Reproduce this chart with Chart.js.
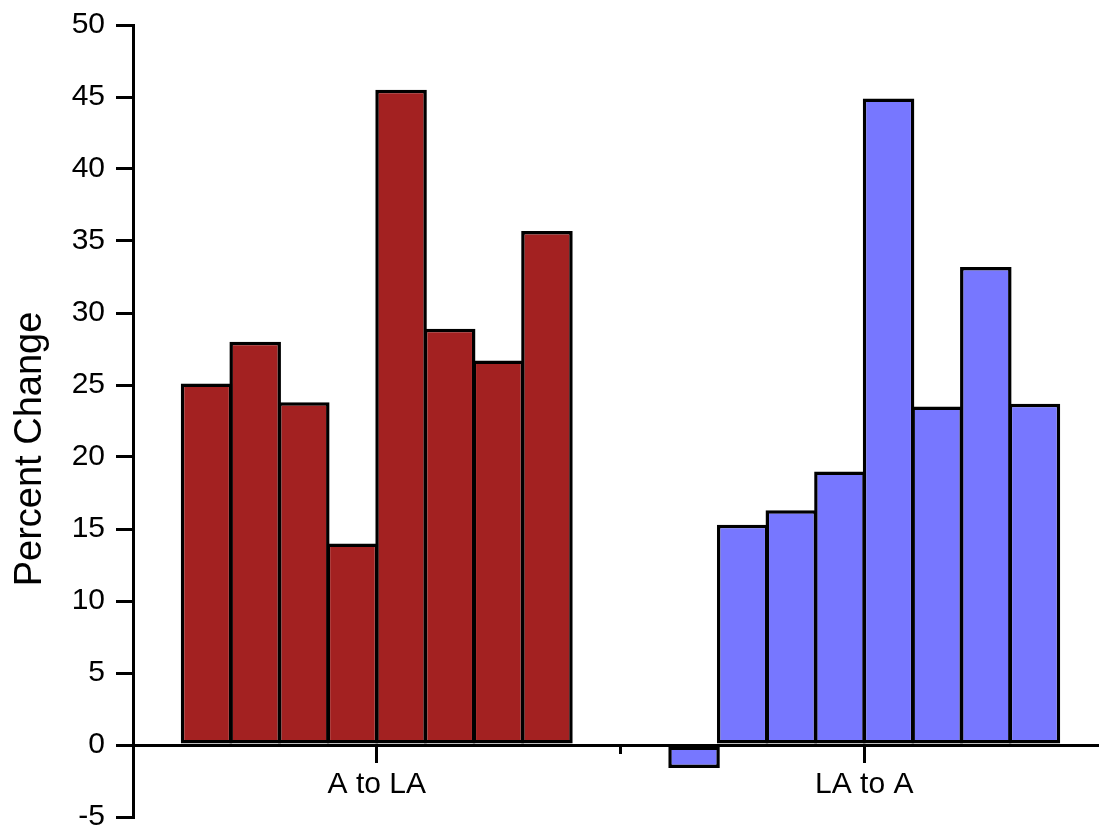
<!DOCTYPE html>
<html>
<head>
<meta charset="utf-8">
<script src="https://cdn.jsdelivr.net/npm/chart.js@4/dist/chart.umd.min.js"></script>
<style>
  html, body { margin: 0; padding: 0; background: #fff; overflow: hidden; }
  #wrap { width: 1112px; height: 834px; }
</style>
</head>
<body>
<div id="wrap"><canvas id="chart" width="1112" height="834"></canvas></div>
<script>
// groups on the x axis
const groups = ["A to LA", "LA to A"];
// 8 bars per group
const aToLA = [25.1, 28.0, 23.8, 14.0, 45.5, 28.9, 26.7, 35.7];
const laToA = [-1.6, 15.3, 16.3, 19.0, 44.9, 23.5, 33.2, 23.7];
const yTicks = [-5, 0, 5, 10, 15, 20, 25, 30, 35, 40, 45, 50];

const yTitle = "Percent Change";
const fontFamily = "'Liberation Sans', Arial, sans-serif";
const redFill = "#a32121";
const blueFill = "#7777ff";

const datasets = aToLA.map((v, i) => ({
    data: [v, laToA[i]],
    backgroundColor: [redFill, blueFill],
    borderColor: "#000",
    borderWidth: 3.5,
    borderSkipped: false,
    barPercentage: 1.06,
    categoryPercentage: 0.798
}));

// y title is drawn by hand because it sits lower than the axis middle
const yTitlePlugin = {
    id: "yTitle",
    afterDraw(chart) {
        const ctx = chart.ctx;
        ctx.save();
        ctx.translate(31, 449);
        ctx.rotate(-Math.PI / 2);
        ctx.font = "38px " + fontFamily;
        ctx.fillStyle = "#000";
        ctx.textAlign = "center";
        ctx.textBaseline = "middle";
        ctx.fillText(yTitle, 0, 0);
        ctx.restore();
    }
};

new Chart(document.getElementById("chart").getContext("2d"), {
    type: "bar",
    data: { labels: groups, datasets: datasets },
    plugins: [yTitlePlugin],
    options: {
        responsive: false,
        animation: false,
        layout: { padding: { top: 25, bottom: 17, left: 0, right: 4 } },
        plugins: { legend: { display: false }, tooltip: { enabled: false } },
        scales: {
            x: {
                type: "category",
                position: { y: 0 },
                offset: true,
                grid: { offset: false, drawOnChartArea: false, tickLength: 16, color: "#000", lineWidth: 3 },
                border: { color: "#000", width: 3 },
                ticks: { color: "#000", padding: 6, font: { family: fontFamily, size: 30 } }
            },
            x2: {
                type: "category",
                axis: "x",
                labels: groups,
                position: { y: 0 },
                offset: true,
                grid: { offset: true, drawOnChartArea: false, tickLength: 9, color: "#000", lineWidth: 3 },
                border: { display: false },
                ticks: { display: false }
            },
            y: {
                min: yTicks[0],
                max: yTicks[yTicks.length - 1],
                afterFit(scale) {
                    scale.width = 133;
                    scale.paddingTop = 0;
                    scale.paddingBottom = 0;
                },
                afterBuildTicks(scale) { scale.ticks = yTicks.map(v => ({ value: v })); },
                grid: { drawOnChartArea: false, tickLength: 17, color: "#000", lineWidth: 3 },
                border: { color: "#000", width: 3 },
                ticks: { color: "#000", padding: 11, font: { family: fontFamily, size: 30 } }
            }
        }
    }
});
</script>
</body>
</html>
